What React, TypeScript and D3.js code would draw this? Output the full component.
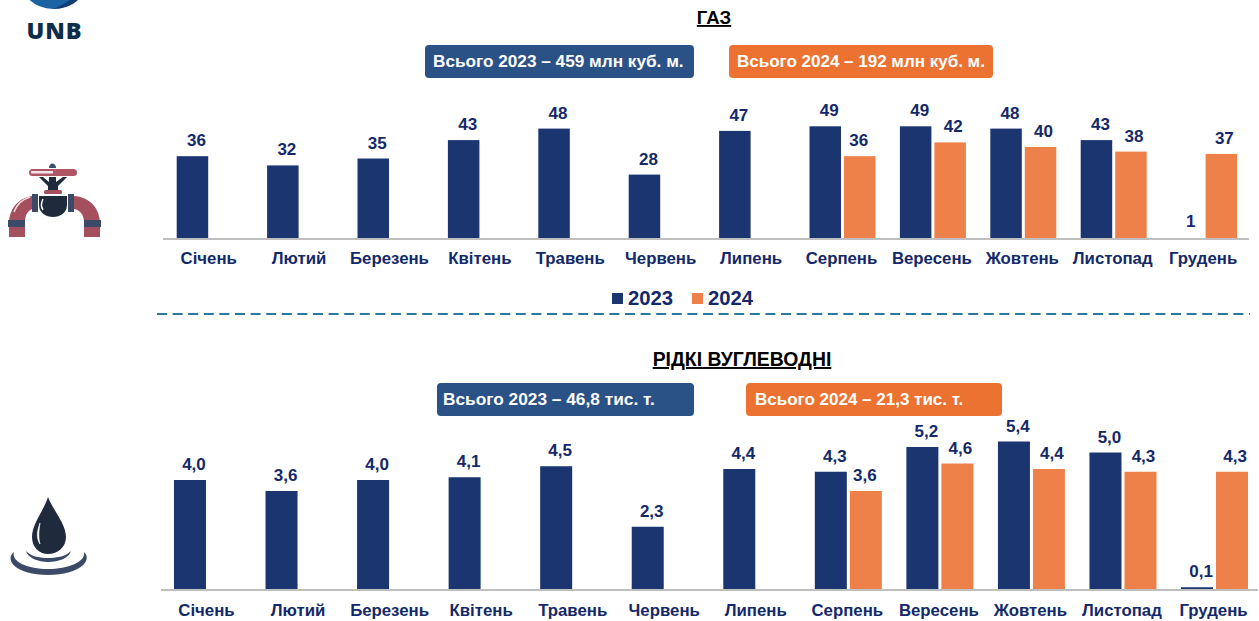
import React from "react";
import * as d3 from "d3";

const months = ["Січень","Лютий","Березень","Квітень","Травень","Червень","Липень","Серпень","Вересень","Жовтень","Листопад","Грудень"];
const gas2023 = [36,32,35,43,48,28,47,49,49,48,43,1];
const gas2024 = [null,null,null,null,null,null,null,36,42,40,38,37];
const liquid2023 = [4.0,3.6,4.0,4.1,4.5,2.3,4.4,4.3,5.2,5.4,5.0,0.1];
const liquid2024 = [null,null,null,null,null,null,null,3.6,4.6,4.4,4.3,4.3];
const years = ["2023","2024"];

const NAVY = "#1a3570";
const INK = "#14296a";
const ORANGE = "#ed8149";
const fontFamily = "'Liberation Sans', Arial, sans-serif";

type PanelProps = {
  s23: (number|null)[]; s24: (number|null)[];
  x0: number; x1: number; axis0: number; axis1: number; base: number; ky: number; barW: number; gap: number;
  fmt: (v:number)=>string; labelY: number; minBar: number;
};

function Panel({s23,s24,x0,x1,axis0,axis1,base,ky,barW,gap,fmt,labelY,minBar}: PanelProps) {
  const x = d3.scaleBand<string>().domain(months).range([x0,x1]);
  const y = d3.scaleLinear().domain([0,1]).range([base, base-ky]);
  const cx = (m:string)=> (x(m) as number)+x.bandwidth()/2;
  const off = barW/2+gap/2;
  const labelShift = 4;
  return (
    <g>
      {months.map((m,i)=>{
        const a=s23[i], b=s24[i];
        const ax = cx(m)-off-barW/2;
        const bx = cx(m)+off-barW/2;
        return (
          <g key={m}>
            {a!==null && base-y(a)>=minBar && <rect x={ax} y={y(a)} width={barW} height={base-y(a)} fill={NAVY}/>}
            {b!==null && <rect x={bx} y={y(b)} width={barW} height={base-y(b)} fill={ORANGE}/>}
            {a!==null && <text x={ax+barW/2+labelShift} y={y(a)-10} textAnchor="middle" fontSize={17} fontWeight={700} fill={INK}>{fmt(a)}</text>}
            {b!==null && <text x={bx+barW/2+(i===7?-1:3)} y={y(b)-10} textAnchor="middle" fontSize={17} fontWeight={700} fill={INK}>{fmt(b)}</text>}
            <text x={cx(m)-1} y={labelY} textAnchor="middle" fontSize={16.8} fontWeight={700} fill={INK}>{m}</text>
          </g>
        );
      })}
      <line x1={axis0} x2={axis1} y1={base} y2={base} stroke="#bfbfbf" strokeWidth={2}/>
    </g>
  );
}

function Badge({x,y,w,h,fill,text,tx,fs}:{x:number;y:number;w:number;h:number;fill:string;text:string;tx:number;fs:number}) {
  return (
    <g>
      <rect x={x} y={y} width={w} height={h} rx={4} fill={fill}/>
      <text x={tx} y={y+h/2+5.5} fontSize={fs} fontWeight={700} fill="#fff">{text}</text>
    </g>
  );
}

function Valve() {
  const red="#a5505e", slate="#3b4a66", dark="#1f2b3d";
  return (
    <g>
      <path d="M9 237 V222 C10 207 20 197 33 196 V209 C28 210 25 215 25 222 V237 Z" fill={red}/>
      <path d="M100 237 V222 C99 207 89 197 74 196 V209 C80 210 84 215 84 222 V237 Z" fill={red}/>
      <path d="M14 212 C17 204 23 199 30 197" stroke="#f3dfe2" strokeWidth={1.5} fill="none"/>
      <rect x={8} y={220} width={17} height={7} fill={slate}/>
      <rect x={84} y={220} width={17} height={7} fill={slate}/>
      <rect x={32} y={194} width={6} height={18} fill={slate}/>
      <rect x={68} y={194} width={6} height={18} fill={slate}/>
      <path d="M39 196 H67 V205 C67 213 60 217 53 217 C46 217 39 213 39 205 Z" fill={dark}/>
      <path d="M43 199 C41 203 41 207 43 210" stroke="#fff" strokeWidth={1.5} fill="none"/>
      <rect x={44} y={190} width={18} height={4} rx={1.5} fill={red}/>
      <path d="M39 177 L43 177 L49 182 V177 H56 V182 L63 177 L67 177 L58 186 V190 H48 V186 Z" fill={dark}/>
      <rect x={29} y={169} width={48} height={7} rx={3.5} fill="#b05563"/>
      <rect x={31} y={171} width={22} height={2.5} fill="#f6e6e8"/>
      <path d="M49 168 C49 162 56 162 56 168 Z" fill={slate}/>
    </g>
  );
}

function Drop() {
  const dark="#1f2b3d", slate="#3b4a66";
  return (
    <g>
      <path d="M48 497 C44 510 32 524 32 537 C32 547 39 554 48 554 C58 554 66 547 66 537 C66 524 53 510 48 497 Z" fill={dark}/>
      <path d="M40 523 C37 531 36 538 40 544 C38 537 39 530 40 523 Z" fill="#fff" stroke="#fff" strokeWidth={0.6}/>
      <path d="M26 551 C28 558 38 562 48 562 C59 562 69 558 71 551 C66 556 58 558 48 558 C38 558 31 556 26 551 Z" fill={slate}/>
      <path d="M14 552 C4 560 16 575 48 575 C80 575 93 560 84 552 C86 562 68 569 48 569 C28 569 11 562 14 552 Z" fill={slate}/>
    </g>
  );
}

export default function App() {
  const f0 = (v:number)=>d3.format("d")(v);
  const f1 = (v:number)=>d3.format(".1f")(v).replace(".",",");
  return (
    <svg width={1259} height={621} style={{position:"absolute",left:0,top:0,fontFamily}}>
      <rect width={1259} height={621} fill="#fff"/>
      <defs>
        <clipPath id="top"><rect x={0} y={0} width={200} height={60}/></clipPath>
      </defs>
      <g clipPath="url(#top)">
        <circle cx={53} cy={-26} r={35} fill="#1c63a4"/>
        <path d="M78 0 C 72 6 62 9 53 9 C 60 6 66 3 70 0 Z" fill="#103f73"/>
      </g>
      <text x={54.5} y={39} textAnchor="middle" fontSize={23.5} fontWeight={800} letterSpacing={1} fill="#0f2d4a" style={{fontFamily:"'Open Sans', sans-serif"}}>UNB</text>
      <Valve/>
      <Drop/>

      <text x={714} y={24} textAnchor="middle" fontSize={18.6} fontWeight={700} fill="#000" textDecoration="underline">ГАЗ</text>
      <Badge x={425} y={45} w={269} h={33} fill="#2b5287" text="Всього 2023 – 459 млн куб. м." tx={433} fs={17.2}/>
      <Badge x={729} y={45} w={264} h={33} fill="#ec7232" text="Всього 2024 – 192 млн куб. м." tx={737} fs={17}/>
      <Panel s23={gas2023} s24={gas2024} x0={164.5} x1={1249.3} axis0={163} axis1={1249} base={239} ky={2.3} barW={31.5} gap={3} fmt={f0} labelY={264} minBar={3}/>

      <rect x={612} y={293} width={11} height={11} fill={NAVY}/>
      <text x={628} y={305} fontSize={20.3} fontWeight={700} fill={INK}>{years[0]}</text>
      <rect x={692} y={293} width={11} height={11} fill={ORANGE}/>
      <text x={708} y={305} fontSize={20.3} fontWeight={700} fill={INK}>{years[1]}</text>
      <line x1={157} x2={1250} y1={314} y2={314} stroke="#2a7a9e" strokeWidth={1.8} strokeDasharray="10 5.6"/>

      <text x={742} y={366} textAnchor="middle" fontSize={19.4} fontWeight={700} fill="#000" textDecoration="underline">РІДКІ ВУГЛЕВОДНІ</text>
      <Badge x={437} y={383} w={257} h={33} fill="#2b5287" text="Всього 2023 – 46,8 тис. т." tx={443} fs={17.3}/>
      <Badge x={746} y={383} w={256} h={33} fill="#ec7232" text="Всього 2024 – 21,3 тис. т." tx={755} fs={17}/>
      <Panel s23={liquid2023} s24={liquid2024} x0={161.7} x1={1260.3} axis0={161} axis1={1258} base={590} ky={27.5} barW={32} gap={3} fmt={f1} labelY={616} minBar={0}/>
    </svg>
  );
}
